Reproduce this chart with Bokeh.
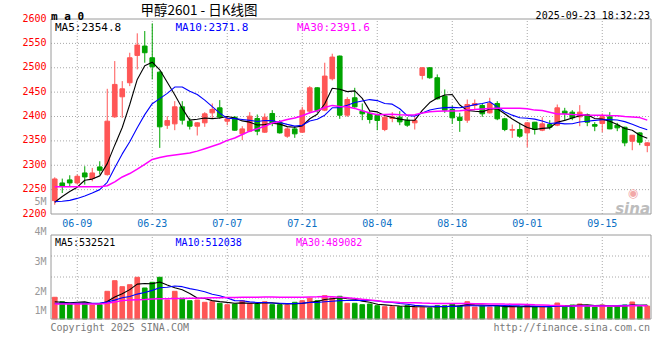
import pandas as pd
from bokeh.plotting import figure
from bokeh.models import Range1d, ColumnDataSource
from bokeh.core.properties import value
from bokeh.embed import file_html
from bokeh.resources import INLINE

# ---------------- data ----------------
dates = [d.strftime("%m-%d") for d in pd.bdate_range("2025-06-04", "2025-09-23")]

open_ = [2227.4, 2263.7, 2270.0, 2263.7, 2284.2, 2272.6, 2296.6, 2280.8, 2399.3, 2440.4,
         2469.2, 2525.3, 2544.5, 2520.5, 2491.0, 2382.0, 2384.9, 2419.9, 2390.4, 2380.1,
         2387.0, 2407.5, 2417.8, 2390.4, 2398.6, 2364.4, 2369.9, 2395.9, 2367.8, 2406.2,
         2388.3, 2359.6, 2374.6, 2367.8, 2410.9, 2458.9, 2413.0, 2477.4, 2524.0, 2402.7,
         2438.4, 2410.9, 2406.2, 2402.0, 2373.3, 2395.9, 2398.6, 2392.5, 2387.0, 2484.2,
         2500.0, 2479.5, 2441.8, 2414.4, 2398.6, 2392.5, 2422.6, 2422.6, 2407.5, 2426.7,
         2395.2, 2371.9, 2373.3, 2366.4, 2388.3, 2371.9, 2383.5, 2382.2, 2411.0, 2408.9,
         2399.3, 2404.1, 2383.5, 2385.6, 2399.3, 2382.2, 2378.0, 2349.3, 2366.4, 2340.4]
high = [2275.3, 2272.6, 2279.4, 2280.8, 2298.0, 2294.5, 2308.2, 2456.8, 2513.7, 2472.6,
        2530.8, 2570.6, 2575.3, 2591.1, 2493.0, 2400.7, 2431.5, 2431.5, 2397.3, 2388.3,
        2408.9, 2426.7, 2433.6, 2400.7, 2400.7, 2380.1, 2408.9, 2404.1, 2406.2, 2413.0,
        2392.5, 2378.0, 2380.1, 2419.9, 2462.3, 2460.0, 2510.3, 2528.8, 2525.0, 2439.7,
        2458.9, 2426.7, 2410.9, 2406.2, 2400.7, 2408.9, 2410.9, 2398.6, 2400.7, 2501.0,
        2501.0, 2486.3, 2455.5, 2422.6, 2407.5, 2434.9, 2434.9, 2426.7, 2438.4, 2431.5,
        2397.3, 2383.5, 2387.0, 2388.3, 2389.0, 2398.6, 2392.5, 2424.6, 2417.8, 2413.0,
        2423.3, 2406.2, 2388.3, 2406.2, 2408.9, 2387.0, 2379.0, 2361.6, 2367.8, 2347.3]
low = [2219.0, 2243.0, 2255.5, 2260.3, 2260.3, 2267.0, 2281.0, 2278.8, 2397.3, 2397.3,
       2462.3, 2496.6, 2510.3, 2476.0, 2335.6, 2374.6, 2371.9, 2383.5, 2373.3, 2361.0,
       2378.8, 2395.9, 2395.2, 2382.2, 2371.0, 2351.4, 2367.8, 2361.6, 2366.4, 2380.1,
       2365.0, 2356.2, 2356.2, 2366.4, 2406.2, 2407.5, 2410.9, 2474.0, 2395.2, 2399.3,
       2417.8, 2392.5, 2385.6, 2371.9, 2369.9, 2388.3, 2382.2, 2378.8, 2373.3, 2476.0,
       2477.4, 2434.9, 2407.5, 2384.9, 2368.5, 2387.0, 2413.0, 2399.3, 2406.2, 2392.5,
       2369.9, 2356.2, 2356.2, 2337.0, 2363.0, 2369.9, 2373.3, 2380.1, 2392.5, 2392.5,
       2380.1, 2380.1, 2369.9, 2367.8, 2374.0, 2369.9, 2339.0, 2330.8, 2341.1, 2326.7]
close = [2271.9, 2256.8, 2263.7, 2277.4, 2276.0, 2284.2, 2289.7, 2390.4, 2465.8, 2456.8,
         2520.5, 2546.6, 2530.8, 2502.0, 2378.8, 2391.6, 2419.9, 2392.5, 2380.1, 2387.0,
         2405.5, 2414.4, 2398.6, 2395.2, 2371.9, 2374.6, 2400.7, 2369.9, 2398.6, 2385.6,
         2366.4, 2374.6, 2364.4, 2413.0, 2458.9, 2412.3, 2482.9, 2521.9, 2402.7, 2434.9,
         2419.9, 2405.5, 2393.8, 2391.8, 2398.6, 2399.3, 2389.0, 2382.2, 2391.8, 2500.0,
         2479.5, 2436.3, 2413.0, 2397.3, 2391.8, 2424.6, 2426.7, 2405.5, 2426.7, 2395.2,
         2373.3, 2373.3, 2359.6, 2387.0, 2373.3, 2384.9, 2378.0, 2417.8, 2406.2, 2397.3,
         2408.9, 2388.3, 2380.1, 2399.3, 2374.6, 2376.7, 2345.9, 2361.6, 2347.3, 2345.9]

ma5 = [2224, 2236, 2246, 2255, 2269.2, 2271.6, 2278.2, 2303.4, 2341.2, 2377.4,
       2424.6, 2476.0, 2504.2, 2511.4, 2495.8, 2470.2, 2444.8, 2417.0, 2392.6, 2394.2,
       2396.8, 2395.6, 2397.0, 2400.0, 2397.0, 2391.0, 2388.4, 2382.6, 2383.4, 2386.2,
       2384.4, 2379.2, 2378.0, 2380.8, 2395.4, 2404.6, 2426.2, 2457.8, 2455.8, 2451.0,
       2452.6, 2437.2, 2411.6, 2409.4, 2402.2, 2398.0, 2394.6, 2392.2, 2392.2, 2412.4,
       2428.6, 2438.0, 2444.2, 2445.2, 2423.6, 2412.6, 2410.8, 2409.4, 2415.4, 2416.0,
       2405.6, 2394.8, 2385.6, 2377.6, 2373.2, 2375.6, 2376.6, 2388.2, 2392.0, 2396.8,
       2401.6, 2403.6, 2396.0, 2394.6, 2390.2, 2383.8, 2375.4, 2371.8, 2361.4, 2355.6]
ma10 = [2225, 2226, 2228, 2232, 2237, 2243, 2250, 2265, 2295, 2323.3,
        2348.1, 2377.1, 2403.8, 2426.3, 2436.6, 2447.4, 2460.4, 2460.6, 2452.0, 2445.0,
        2433.5, 2420.2, 2407.0, 2396.3, 2395.6, 2393.9, 2392.0, 2389.8, 2391.7, 2391.6,
        2387.7, 2383.8, 2380.3, 2382.1, 2390.8, 2394.5, 2402.7, 2417.9, 2418.3, 2423.2,
        2428.6, 2431.7, 2434.7, 2432.6, 2426.6, 2425.3, 2415.9, 2401.9, 2400.8, 2407.3,
        2413.3, 2416.3, 2418.2, 2418.7, 2418.0, 2420.6, 2424.4, 2426.8, 2430.3, 2419.8,
        2409.1, 2402.8, 2397.5, 2396.5, 2394.6, 2390.6, 2385.7, 2386.9, 2384.8, 2385.0,
        2388.6, 2390.1, 2392.1, 2393.3, 2393.5, 2392.7, 2389.5, 2383.9, 2378.0, 2372.9]
ma30 = [2256, 2256, 2256, 2256, 2256, 2256, 2256, 2258, 2266, 2276,
        2283, 2292, 2302, 2312, 2316, 2319, 2321, 2323, 2325, 2329,
        2334, 2339, 2344, 2351, 2356, 2363, 2370, 2375, 2380, 2386.6,
        2389.8, 2393.7, 2397.0, 2401.6, 2407.7, 2411.9, 2418.4, 2422.8, 2420.7, 2419.9,
        2416.6, 2411.9, 2407.3, 2403.7, 2404.3, 2404.6, 2403.5, 2403.2, 2403.6, 2407.4,
        2409.9, 2410.6, 2411.1, 2411.1, 2411.8, 2413.5, 2414.3, 2415.5, 2416.5, 2416.8,
        2417.0, 2416.9, 2416.8, 2415.9, 2413.1, 2412.2, 2408.7, 2405.2, 2405.3, 2404.0,
        2403.7, 2403.1, 2402.6, 2402.8, 2402.0, 2401.3, 2399.9, 2399.2, 2397.7, 2392.6]

# volume in thousands of lots
volume_k = [827, 659, 572, 598, 598, 533, 545, 1055, 1459, 1231,
            1307, 1589, 1181, 1398, 1589, 724, 1055, 789, 697, 724,
            636, 659, 598, 545, 572, 697, 598, 572, 659, 545,
            545, 533, 636, 697, 789, 697, 888, 800, 865, 598,
            598, 545, 572, 507, 469, 469, 469, 507, 446, 446,
            419, 507, 507, 572, 495, 659, 457, 495, 457, 495,
            457, 457, 457, 533, 457, 484, 431, 610, 495, 533,
            572, 495, 457, 533, 457, 495, 533, 648, 476, 495]
vma5_k = [660, 640, 620, 640, 651, 592, 569, 666, 838, 965,
          1119, 1328, 1353, 1341, 1413, 1296, 1189, 1111, 971, 798,
          780, 701, 663, 632, 602, 614, 602, 597, 620, 614,
          584, 571, 584, 591, 640, 670, 741, 774, 808, 770,
          750, 681, 636, 564, 538, 512, 497, 484, 472, 467,
          457, 465, 465, 490, 500, 548, 538, 536, 513, 513,
          472, 472, 465, 480, 472, 478, 472, 503, 495, 511,
          528, 541, 510, 518, 503, 487, 495, 533, 522, 529]
vma10_k = [600, 600, 600, 600, 600, 600, 605, 650, 720, 808,
           856, 949, 1010, 1090, 1189, 1208, 1259, 1232, 1156, 1105,
           1038, 945, 887, 802, 700, 697, 652, 630, 626, 608,
           599, 586, 590, 605, 627, 627, 656, 679, 700, 705,
           710, 711, 705, 686, 654, 631, 589, 560, 518, 503,
           485, 481, 475, 481, 484, 503, 502, 500, 501, 506,
           510, 505, 500, 496, 492, 475, 472, 484, 488, 491,
           503, 507, 507, 507, 507, 508, 518, 522, 520, 516]
vma30_k = [571, 571, 571, 571, 571, 571, 571, 600, 650, 700,
           720, 730, 740, 760, 770, 775, 780, 785, 790, 795,
           800, 805, 810, 815, 820, 825, 830, 833, 836, 840,
           831, 827, 829, 832, 839, 844, 855, 847, 827, 806,
           782, 748, 727, 698, 660, 652, 632, 623, 615, 605,
           598, 593, 590, 591, 588, 587, 582, 580, 573, 571,
           568, 566, 560, 554, 543, 536, 521, 515, 502, 500,
           499, 498, 494, 495, 494, 495, 497, 502, 503, 505]

price_ticks = [2200, 2250, 2300, 2350, 2400, 2450, 2500, 2550, 2600]
date_tick_labels = ["06-09", "06-23", "07-07", "07-21", "08-04", "08-18", "09-01", "09-15"]
vol_tick_labels = ["4M", "3M", "2M", "1M"]
vol_grid = [800000, 1600000, 2400000]
VOL_MAX = 3200000

legend_price = ["MA5:2354.8", "MA10:2371.8", "MA30:2391.6"]
legend_vol = ["MA5:532521", "MA10:512038", "MA30:489082"]
symbol_text = "m a 0"
title_text = "甲醇2601 - 日K线图"
stamp_text = "2025-09-23 18:32:23"
footer_left = "Copyright 2025 SINA.COM"
footer_right = "http://finance.sina.com.cn"

# ---------------- layout (pixels) ----------------
W, H = 660, 345
PANEL_L, PANEL_R = 50.5, 650.5
MAIN_T, MAIN_B = 18.5, 213.5
VOL_T, VOL_B = 234.5, 318.5
P_LO, P_HI = price_ticks[0], price_ticks[-1]

RED = "#ff5656"
GREEN = "#00a400"
GRID = "#a8a8a8"
BORDER = "#9a9a9a"
MONO = "DejaVu Sans Mono"
MA_COLORS = ["#000000", "#0000ff", "#ff00ff"]

n = len(dates)
ux = (PANEL_R - PANEL_L) / n                     # px per bar
sp = (MAIN_B - MAIN_T) / (P_HI - P_LO)           # px per price unit
sv = (VOL_B - VOL_T) / VOL_MAX                   # px per lot
x_range = Range1d(-0.5 - PANEL_L / ux, n - 0.5 + (W - PANEL_R) / ux)
y_range = Range1d(P_LO - (H - MAIN_B) / sp, P_HI + MAIN_T / sp)
vol_range = Range1d(-(H - VOL_B) / sv, VOL_MAX + VOL_T / sv)

xs = list(range(n))
colors = [RED if c >= o else GREEN for o, c in zip(open_, close)]
src = ColumnDataSource(dict(
    x=xs, low=low, high=high,
    top=[max(o, c) for o, c in zip(open_, close)],
    bottom=[min(o, c) for o, c in zip(open_, close)],
    color=colors,
    ma5=ma5, ma10=ma10, ma30=ma30,
    vol=[v * 1000 for v in volume_k],
    vma5=[v * 1000 for v in vma5_k],
    vma10=[v * 1000 for v in vma10_k],
    vma30=[v * 1000 for v in vma30_k],
))
tick_idx = [dates.index(d) for d in date_tick_labels]
XL, XR = -0.5, n - 0.5

p = figure(width=W, height=H, x_range=x_range, y_range=y_range,
           output_backend="svg", toolbar_location=None,
           x_axis_location=None, y_axis_location=None,
           min_border=0, min_border_left=0, min_border_right=0,
           min_border_top=0, min_border_bottom=0)
p.extra_y_ranges = {"vol": vol_range}
p.grid.visible = False
p.outline_line_color = None
p.background_fill_color = "white"
p.border_fill_color = "white"


def put_text(x, y, text, color, size, x_offset=0, y_offset=0, align="left",
             baseline="alphabetic", font=MONO, style="normal", yr="default"):
    k = len(text)
    p.text(x=x if isinstance(x, list) else [x] * k,
           y=y if isinstance(y, list) else [y] * k,
           text=text,
           x_offset=x_offset if isinstance(x_offset, list) else [x_offset] * k,
           y_offset=y_offset if isinstance(y_offset, list) else [y_offset] * k,
           text_color=color, text_font=value(font), text_font_size=value(size),
           text_align=align, text_baseline=baseline, text_font_style=style,
           y_range_name=yr)


# ---- grids ----
gp = price_ticks[1:-1]
p.segment(x0=[XL] * len(gp), x1=[XR] * len(gp), y0=gp, y1=gp,
          line_color=GRID, line_dash="1 2", line_width=1)
p.segment(x0=tick_idx, x1=tick_idx, y0=[P_LO] * len(tick_idx), y1=[P_HI] * len(tick_idx),
          line_color=GRID, line_dash="1 2", line_width=1)
p.segment(x0=[XL] * len(vol_grid), x1=[XR] * len(vol_grid), y0=vol_grid, y1=vol_grid,
          line_color=GRID, line_dash="1 2", line_width=1, y_range_name="vol")
p.segment(x0=tick_idx, x1=tick_idx, y0=[0] * len(tick_idx), y1=[VOL_MAX] * len(tick_idx),
          line_color=GRID, line_dash="1 2", line_width=1, y_range_name="vol")

# ---- candles ----
p.segment(x0="x", y0="low", x1="x", y1="high", color="color", line_width=1, source=src)
p.vbar(x="x", width=0.62, top="top", bottom="bottom", fill_color="color",
       line_color="color", line_width=1, source=src)
for key, col in zip(["ma5", "ma10", "ma30"], MA_COLORS):
    p.line("x", key, source=src, line_color=col, line_width=1.1 if key != "ma30" else 1.5)

# ---- volume ----
p.vbar(x="x", width=0.62, top="vol", bottom=0, fill_color="color",
       line_color="color", line_width=1, source=src, y_range_name="vol")
for key, col in zip(["vma5", "vma10", "vma30"], MA_COLORS):
    p.line("x", key, source=src, line_color=col, line_width=1.1 if key != "vma30" else 1.5,
           y_range_name="vol")

# ---- panel borders ----
p.quad(left=[XL], right=[XR], bottom=[P_LO], top=[P_HI], fill_color=None,
       line_color=BORDER, line_width=1)
p.quad(left=[XL], right=[XR], bottom=[0], top=[VOL_MAX], fill_color=None,
       line_color=BORDER, line_width=1, y_range_name="vol")

# ---- axis labels ----
put_text(XL, price_ticks, [str(t) for t in price_ticks], "#ff0000", "10px",
         x_offset=-4.5, y_offset=-1.5, align="right", baseline="middle")
put_text(tick_idx, P_LO, date_tick_labels, "#0a6fc4", "10px",
         y_offset=8.5, align="center", baseline="middle")
put_text(XL, VOL_MAX, vol_tick_labels, "#999999", "10px",
         x_offset=-4.5, y_offset=[-3.5, 26.5, 56.5, 75.5], align="right", baseline="middle",
         yr="vol")
put_text(XL, P_LO, ["5M"], "#999999", "10px", x_offset=-4.5, y_offset=-12.5,
         align="right", baseline="middle")

# ---- legends ----
put_text(XL, P_HI, legend_price, MA_COLORS, "11px",
         x_offset=[4, 124.5, 246], y_offset=8.5)
put_text(XL, VOL_MAX, legend_vol, MA_COLORS, "10px",
         x_offset=[4, 124.5, 245], y_offset=7.5, yr="vol")

# ---- header / footer ----
put_text(XL, P_HI, [symbol_text], "#000000", "11px", x_offset=0, y_offset=-3,
         style="bold")
put_text(XL, P_HI, [title_text], "#000000", "13.5px", x_offset=89.5, y_offset=-10.5,
         baseline="middle", font="Noto Sans CJK SC")
put_text(XR, P_HI, [stamp_text], "#000000", "10px", x_offset=-1, y_offset=-3.2,
         align="right")
put_text(XL, 0, [footer_left], "#7a7a7a", "10px", x_offset=-0.5, y_offset=8.5, yr="vol")
put_text(XR, 0, [footer_right], "#7a7a7a", "10px", x_offset=-1, y_offset=8.5,
         align="right", yr="vol")

# ---- sina watermark ----
put_text(XR, P_LO, ["sina"], "#bdbdbd", "15px", x_offset=-1, y_offset=-5,
         align="right", font="DejaVu Sans", style="bold italic")
put_text(XR, P_LO, ["◉"], "#f2a8a8", "12px", x_offset=-18, y_offset=-21,
         align="center", baseline="middle", font="DejaVu Sans")

open("out.html", "w").write(file_html(p, INLINE))
